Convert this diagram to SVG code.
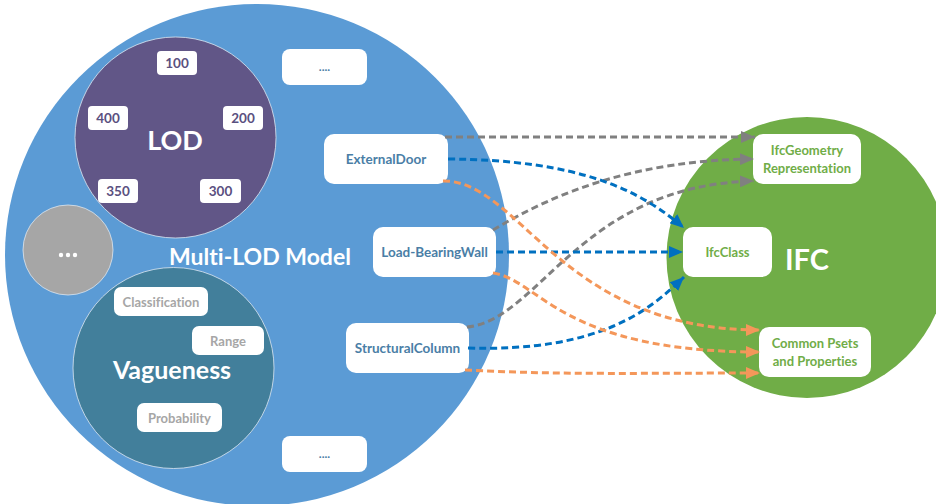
<svg xmlns="http://www.w3.org/2000/svg" width="936" height="504" viewBox="0 0 936 504">
  <style>
    text { font-family: Lato, "Open Sans", "Liberation Sans", sans-serif; font-weight: bold; text-anchor: middle; dominant-baseline: central; font-variant-ligatures: none; }
    .box { fill: #ffffff; }
    .ring { stroke: #dce6f0; stroke-width: 1; stroke-opacity: 0.8; }
    .lod { fill: #5a5080; font-size: 13.5px; }
    .vag { fill: #a6a6a6; font-size: 13px; }
    .elem { fill: #4a7ea6; font-size: 13.5px; }
    .ifc { fill: #70ad47; font-size: 13px; }
    .big { fill: #ffffff; }
    .dots { fill: #4a7ea6; font-size: 12px; }
    .c { fill: none; stroke-width: 3; stroke-dasharray: 7 4; }
    .gray { stroke: #808080; }
    .blue { stroke: #0070c0; }
    .orange { stroke: #f4975a; }
  </style>
  <defs>
    <marker id="ah-gray" viewBox="0 0 14 12" refX="14" refY="6" markerWidth="14" markerHeight="12" markerUnits="userSpaceOnUse" orient="auto">
      <path d="M0,0 L14,6 L0,12 z" fill="#808080"/>
    </marker>
    <marker id="ah-blue" viewBox="0 0 14 12" refX="14" refY="6" markerWidth="14" markerHeight="12" markerUnits="userSpaceOnUse" orient="auto">
      <path d="M0,0 L14,6 L0,12 z" fill="#0070c0"/>
    </marker>
    <marker id="ah-orange" viewBox="0 0 14 12" refX="14" refY="6" markerWidth="14" markerHeight="12" markerUnits="userSpaceOnUse" orient="auto">
      <path d="M0,0 L14,6 L0,12 z" fill="#f4975a"/>
    </marker>
  </defs>

  <rect width="936" height="504" fill="#ffffff"/>

  <!-- Multi-LOD model -->
  <g id="multi-lod-model">
    <ellipse cx="257" cy="255" rx="252" ry="251" fill="#5b9bd5"/>
    <text class="big" x="260" y="256" font-size="23">Multi-LOD Model</text>
  </g>

  <!-- LOD circle -->
  <g id="lod">
    <circle class="ring" cx="175.5" cy="137.5" r="100.5" fill="#615687"/>
    <text class="big" x="175" y="139" font-size="27">LOD</text>
    <rect class="box" x="157" y="51" width="40" height="24" rx="4"/>
    <text class="lod" x="177" y="63">100</text>
    <rect class="box" x="88" y="106" width="40" height="24" rx="4"/>
    <text class="lod" x="108" y="118">400</text>
    <rect class="box" x="223" y="106" width="40" height="24" rx="4"/>
    <text class="lod" x="243" y="118">200</text>
    <rect class="box" x="98" y="179" width="40" height="24" rx="4"/>
    <text class="lod" x="118" y="191">350</text>
    <rect class="box" x="200" y="179" width="41" height="24" rx="4"/>
    <text class="lod" x="220.5" y="191">300</text>
  </g>

  <!-- Other aspects -->
  <g id="other-aspects">
    <circle class="ring" cx="68" cy="250" r="45" fill="#a6a6a6"/>
    <circle cx="61" cy="255" r="2.2" fill="#ffffff"/>
    <circle cx="68" cy="255" r="2.2" fill="#ffffff"/>
    <circle cx="75" cy="255" r="2.2" fill="#ffffff"/>
  </g>

  <!-- Vagueness circle -->
  <g id="vagueness">
    <circle class="ring" cx="173.5" cy="368" r="100.5" fill="#427f9b"/>
    <text class="big" x="172" y="369" font-size="25">Vagueness</text>
    <rect class="box" x="114" y="287" width="94" height="29" rx="7"/>
    <text class="vag" x="161" y="301.5">Classification</text>
    <rect class="box" x="192" y="326" width="72" height="29" rx="7"/>
    <text class="vag" x="228" y="340.5">Range</text>
    <rect class="box" x="137" y="403" width="85" height="29" rx="7"/>
    <text class="vag" x="179.5" y="417.5">Probability</text>
  </g>

  <!-- Element boxes -->
  <g id="more-top">
    <rect class="box" x="282" y="49" width="85" height="36" rx="8"/>
    <text class="dots" x="324.5" y="66">....</text>
  </g>
  <g id="external-door">
    <rect class="box" x="324" y="134" width="124" height="50" rx="10"/>
    <text class="elem" x="386" y="159">ExternalDoor</text>
  </g>
  <g id="load-bearing-wall">
    <rect class="box" x="373" y="227" width="123" height="50" rx="10"/>
    <text class="elem" x="434.5" y="252">Load-BearingWall</text>
  </g>
  <g id="structural-column">
    <rect class="box" x="346" y="323" width="123" height="50" rx="10"/>
    <text class="elem" x="407.5" y="348">StructuralColumn</text>
  </g>
  <g id="more-bottom">
    <rect class="box" x="282" y="436" width="85" height="36" rx="8"/>
    <text class="dots" x="324.5" y="453">....</text>
  </g>

  <!-- IFC circle -->
  <g id="ifc">
    <circle cx="807" cy="257.5" r="140.5" fill="#70ad47"/>
    <text class="big" x="807" y="258" font-size="29">IFC</text>
  </g>
  <g id="ifc-geometry">
    <rect class="box" x="753" y="134" width="108" height="50" rx="10"/>
    <text class="ifc" x="807" y="150">IfcGeometry</text>
    <text class="ifc" x="807" y="168">Representation</text>
  </g>
  <g id="ifc-class">
    <rect class="box" x="683" y="227" width="89" height="50" rx="10"/>
    <text class="ifc" x="727.5" y="252">IfcClass</text>
  </g>
  <g id="common-psets">
    <rect class="box" x="759" y="327" width="112" height="50" rx="10"/>
    <text class="ifc" x="815" y="343">Common Psets</text>
    <text class="ifc" x="815" y="361">and Properties</text>
  </g>

  <!-- Mappings -->
  <g id="connectors">
    <path class="c gray" d="M445,137 L755,137" marker-end="url(#ah-gray)"/>
    <path class="c gray" d="M493,230 C560,190 640,160 754,159" marker-end="url(#ah-gray)"/>
    <path class="c gray" d="M467,327 C540,320 580,185 754,181" marker-end="url(#ah-gray)"/>
    <path class="c blue" d="M448,159 C580,160 640,190 684,228" marker-end="url(#ah-blue)"/>
    <path class="c blue" d="M496,252 L683,252" marker-end="url(#ah-blue)"/>
    <path class="c blue" d="M468,348 C600,352 650,310 684,277" marker-end="url(#ah-blue)"/>
    <path class="c orange" d="M443,181 C520,180 560,330 760,330" marker-end="url(#ah-orange)"/>
    <path class="c orange" d="M493,273 C540,280 560,352 760,352" marker-end="url(#ah-orange)"/>
    <path class="c orange" d="M465,370 C560,375 650,373 760,373" marker-end="url(#ah-orange)"/>
  </g>
</svg>
